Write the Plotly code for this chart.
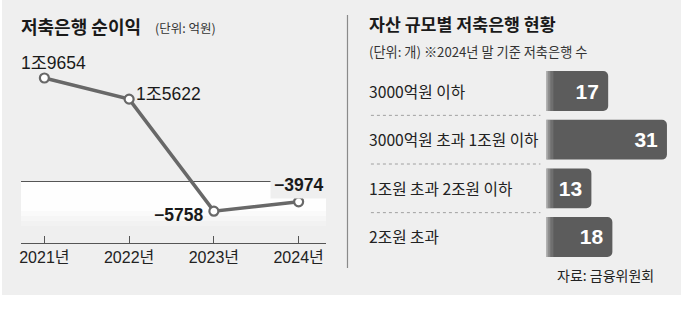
import plotly.graph_objects as go

# ---- data ----
years = ["2021년", "2022년", "2023년", "2024년"]
profit = [19654, 15622, -5758, -3974]
profit_labels = ["1조9654", "1조5622", "-5758", "-3974"]

size_cats = ["3000억원 이하", "3000억원 초과 1조원 이하", "1조원 초과 2조원 이하", "2조원 초과"]
bank_counts = [17, 31, 13, 18]

W, H = 681, 319
def px(x): return x / W
def py(y): return 1 - y / H

BG = "#efefef"
NUMF = "Liberation Sans, Arial, Noto Sans CJK KR, sans-serif"
CJK = "Noto Sans CJK KR, sans-serif"

fig = go.Figure()

# line chart
xi = list(range(len(years)))
fig.add_trace(go.Scatter(
    x=xi, y=profit, mode="lines+markers",
    line=dict(color="#686868", width=3.5),
    marker=dict(symbol="circle", size=9, color="white", line=dict(color="#686868", width=2.2)),
    xaxis="x", yaxis="y", hoverinfo="skip", showlegend=False,
))

# bar chart
fig.add_trace(go.Bar(
    x=bank_counts, y=size_cats, orientation="h",
    marker=dict(color="#5c5c5c", cornerradius=5, line=dict(width=0)),
    text=[f"{v}\u2009" for v in bank_counts], textposition="inside", insidetextanchor="end",
    textangle=0, constraintext="none",
    textfont=dict(family=NUMF, size=21, color="white", weight="bold"),
    xaxis="x2", yaxis="y2", hoverinfo="skip", showlegend=False, cliponaxis=False,
))

shapes = []
# gray background
shapes.append(dict(type="rect", xref="paper", yref="paper", x0=0, x1=1, y0=py(295), y1=1,
                   fillcolor=BG, line=dict(width=0), layer="below"))
# white band below zero line
for (a, b, op) in [(182, 211, 0.9), (211, 216, 0.7), (216, 221, 0.45), (221, 226, 0.2)]:
    shapes.append(dict(type="rect", xref="paper", yref="paper", x0=px(19), x1=px(325),
                       y0=py(b), y1=py(a), fillcolor="white", opacity=op, line=dict(width=0), layer="below"))
# vertical divider
shapes.append(dict(type="line", xref="paper", yref="paper", x0=px(346.5), x1=px(346.5),
                   y0=py(15), y1=py(268), line=dict(color="#8a8a8a", width=1.2)))
# label panel covering bar starts
shapes.append(dict(type="rect", xref="paper", yref="paper", x0=px(352), x1=px(546),
                   y0=py(266), y1=py(62), fillcolor=BG, line=dict(width=0), layer="above"))
# soft shadow strip at bar starts
for i in range(len(size_cats)):
    for (a, b, op) in [(546, 548, 0.45), (548, 550, 0.28), (550, 553, 0.12)]:
        shapes.append(dict(type="rect", xref="paper", yref="y2", x0=px(a), x1=px(b),
                           y0=i - 0.41, y1=i + 0.41, fillcolor="white", opacity=op,
                           line=dict(width=0), layer="above"))
# dotted separators between rows
for i in range(len(size_cats) - 1):
    shapes.append(dict(type="line", xref="paper", yref="y2", x0=px(370), x1=px(540),
                       y0=i + 0.5, y1=i + 0.5, line=dict(color="#a0a0a0", width=1, dash="dot"),
                       layer="above"))

annotations = []
# titles
annotations.append(dict(text="<b>저축은행 순이익</b>", xref="paper", yref="paper", x=px(17), y=py(26),
                        xanchor="left", yanchor="middle", showarrow=False,
                        font=dict(family=CJK, size=18, color="#1a1a1a")))
annotations.append(dict(text="(단위: 억원)", xref="paper", yref="paper", x=px(151), y=py(27),
                        xanchor="left", yanchor="middle", showarrow=False,
                        font=dict(family=CJK, size=12.5, color="#333")))
annotations.append(dict(text="<b>자산 규모별 저축은행 현황</b>", xref="paper", yref="paper", x=px(366), y=py(24),
                        xanchor="left", yanchor="middle", showarrow=False,
                        font=dict(family=CJK, size=17.3, color="#1a1a1a")))
annotations.append(dict(text="(단위: 개) ※2024년 말 기준 저축은행 수", xref="paper", yref="paper",
                        x=px(366), y=py(52), xanchor="left", yanchor="middle", showarrow=False,
                        font=dict(family=CJK, size=13.2, color="#333")))
annotations.append(dict(text="자료: 금융위원회", xref="paper", yref="paper", x=px(656), y=py(275),
                        xanchor="right", yanchor="middle", showarrow=False,
                        font=dict(family=CJK, size=14, color="#222")))

# data labels on line
label_style = [
    dict(xanchor="left", yanchor="bottom", xshift=-24, yshift=4, bold=False),
    dict(xanchor="left", yanchor="middle", xshift=6, yshift=5, bold=False),
    dict(xanchor="right", yanchor="middle", xshift=-10, yshift=-4, bold=True),
    dict(xanchor="right", yanchor="middle", xshift=28, yshift=17, bold=True),
]
for i, (xv, yv, lab) in enumerate(zip(xi, profit, profit_labels)):
    st = label_style[i]
    txt = lab.replace("-", "−")
    annotations.append(dict(
        text=f"<b>{txt}</b>" if st["bold"] else txt, x=xv, y=yv, xref="x", yref="y",
        xanchor=st["xanchor"], yanchor=st["yanchor"], xshift=st["xshift"], yshift=st["yshift"],
        showarrow=False, bgcolor=BG if i == 3 else None, borderpad=3 if i == 3 else 0,
        font=dict(family=NUMF, size=17.5, color="#1a1a1a"),
    ))

# category labels
for c in size_cats:
    annotations.append(dict(text=c, xref="paper", yref="y2", x=px(366), y=c,
                            xanchor="left", yanchor="middle", showarrow=False,
                            font=dict(family=CJK, size=15.7, color="#222")))

# axis scales
x_lo = (19 - 42.5) / 85
x_hi = (325 - 42.5) / 85
k = 5.24 / 1000  # px per unit
y_lo = -(243 - 181) / k
y_hi = (181 - 40) / k

bar_k = 4.21
bar_x0 = 536.4

fig.update_layout(
    width=W, height=H, margin=dict(l=0, r=0, t=0, b=0),
    paper_bgcolor="white", plot_bgcolor="rgba(0,0,0,0)",
    shapes=shapes, annotations=annotations, bargap=0.18,
    xaxis=dict(domain=[px(19), px(325)], range=[x_lo, x_hi], tickvals=xi, ticktext=years,
               showline=True, linecolor="#555", linewidth=1.2, ticks="inside", ticklen=7,
               tickcolor="#555", tickwidth=1, showgrid=False, zeroline=False,
               tickfont=dict(family=NUMF, size=16, color="#222"), anchor="y", fixedrange=True),
    yaxis=dict(domain=[py(243), py(40)], range=[y_lo, y_hi], showticklabels=False, showgrid=False,
               zeroline=True, zerolinecolor="#555", zerolinewidth=1, anchor="x", fixedrange=True),
    xaxis2=dict(domain=[px(bar_x0), 1], range=[0, (W - bar_x0) / bar_k], visible=False,
                anchor="y2", fixedrange=True),
    yaxis2=dict(domain=[py(261.3), py(66.7)], range=[3.5, -0.5], visible=False,
                categoryorder="array", categoryarray=size_cats, anchor="x2", fixedrange=True),
)

fig.write_html("out.html")
